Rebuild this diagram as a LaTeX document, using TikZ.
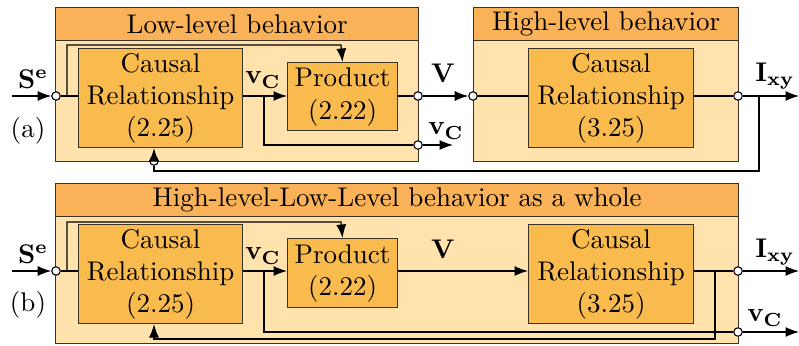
\documentclass[tikz,border=0pt]{standalone}
\usetikzlibrary{arrows.meta}
\definecolor{lightfill}{RGB}{255,226,172}
\definecolor{headfill}{RGB}{249,178,88}
\definecolor{blockfill}{RGB}{250,187,78}
\definecolor{edge}{RGB}{60,50,40}
\newcommand{\sx}[1]{\scalebox{2.7}{#1}}
\newcommand{\stk}[1]{\scalebox{2.7}{\begin{tabular}{@{}c@{}}#1\end{tabular}}}
\begin{document}
\begin{tikzpicture}[x=1pt,y={(0pt,-1pt)},
  every node/.style={font=\fontsize{10}{12}\selectfont},
  container/.style={draw=edge,line width=1.3pt,fill=lightfill,anchor=north west,inner sep=0pt},
  header/.style={draw=edge,line width=1.3pt,fill=headfill,anchor=north west,inner sep=0pt},
  block/.style={draw=edge,line width=1.1pt,fill=blockfill,anchor=north west,inner sep=0pt,align=center},
  port/.style={circle,draw=black,fill=white,line width=1.1pt,inner sep=0pt,minimum size=8.5pt},
  wire/.style={draw=black,line width=1.2pt},
  arr/.style={wire,-{Latex[length=13.5pt,width=10pt]}},
  lbl/.style={inner sep=0pt}]
\useasboundingbox (0,0) rectangle (799,345);
% ---------------- (a) ----------------
\node[container,minimum width=363pt,minimum height=154pt] (ll) at (55,7) {};
\node[header,minimum width=363pt,minimum height=33pt] (llh) at (55,7) {\sx{Low-level behavior}};
\node[container,minimum width=265pt,minimum height=154pt] (hl) at (473,7) {};
\node[header,minimum width=265pt,minimum height=33pt] (hlh) at (473,7) {\sx{High-level behavior}};
\node[block,minimum width=164pt,minimum height=99pt] (cr1) at (78,48) {\stk{Causal\\Relationship\\(2.25)}};
\node[block,minimum width=110pt,minimum height=68pt] (p1) at (287,62) {\stk{Product\\(2.22)}};
\node[block,minimum width=165pt,minimum height=99pt] (cr2) at (528,48) {\stk{Causal\\Relationship\\(3.25)}};
\node[port] (in1) at (56,96) {};
\node[port] (out1) at (418,96) {};
\node[port] (vc1) at (418,145) {};
\node[port] (in2) at (473,96) {};
\node[port] (out2) at (738,96) {};
\node[port] (fb1) at (154,161) {};
\coordinate (sein1) at (12,96);
\coordinate (t1a) at (67,96);
\coordinate (t1b) at (67,45);
\coordinate (t1c) at (341,45);
\coordinate (b1a) at (264,96);
\coordinate (b1b) at (264,145);
\coordinate (vc1end) at (453,145);
\coordinate (ixy1end) at (799,96);
\coordinate (f1a) at (759,96);
\coordinate (f1b) at (759,171);
\coordinate (f1c) at (154,171);
\draw[arr] (sein1) -- (in1);
\draw[wire] (in1) -- (in1 -| cr1.west);
\draw[arr] (t1a) -- (t1b) -- (t1c) -- (p1.north);
\draw[arr] (cr1.east |- b1a) -- (p1.west |- b1a);
\draw[wire] (b1a) -- (b1b) -- (vc1);
\draw[arr] (vc1) -- (vc1end);
\draw[wire] (p1.east |- out1) -- (out1);
\draw[arr] (out1) -- (in2);
\draw[wire] (in2) -- (in2 -| cr2.west);
\draw[wire] (out2 -| cr2.east) -- (out2);
\draw[arr] (out2) -- (ixy1end);
\draw[wire] (f1a) -- (f1b) -- (f1c) -- (fb1);
\draw[arr] (fb1) -- (cr1.south -| fb1);
\node[lbl] (se1) at (33,79) {\sx{$\mathbf{S}^{\mathbf{e}}$}};
\node[lbl] (vcl1) at (263,80) {\sx{$\mathbf{v}_{\mathbf{C}}$}};
\node[lbl] (vl1) at (443,73) {\sx{$\mathbf{V}$}};
\node[lbl] (vcl2) at (446,131) {\sx{$\mathbf{v}_{\mathbf{C}}$}};
\node[lbl] (ixyl1) at (775,76) {\sx{$\mathbf{I}_{\mathbf{xy}}$}};
\node[lbl] (la) at (28,131) {\sx{(a)}};
% ---------------- (b) ----------------
\node[container,minimum width=683pt,minimum height=160pt] (hw) at (55,183) {};
\node[header,minimum width=683pt,minimum height=33pt] (hwh) at (55,183) {\sx{High-level-Low-Level behavior as a whole}};
\node[block,minimum width=164pt,minimum height=99pt] (cr3) at (78,224) {\stk{Causal\\Relationship\\(2.25)}};
\node[block,minimum width=110pt,minimum height=69pt] (p2) at (287,238) {\stk{Product\\(2.22)}};
\node[block,minimum width=165pt,minimum height=99pt] (cr4) at (528,224) {\stk{Causal\\Relationship\\(3.25)}};
\node[port] (in3) at (56,271) {};
\node[port] (out3) at (738,271) {};
\node[port] (vc2) at (738,332) {};
\coordinate (sein2) at (12,271);
\coordinate (t2a) at (67,271);
\coordinate (t2b) at (67,222);
\coordinate (t2c) at (341,222);
\coordinate (b2a) at (264,271);
\coordinate (b2b) at (264,332);
\coordinate (vc2end) at (799,332);
\coordinate (ixy2end) at (799,271);
\coordinate (f2a) at (715,271);
\coordinate (f2b) at (715,339);
\coordinate (f2c) at (154,339);
\draw[arr] (sein2) -- (in3);
\draw[wire] (in3) -- (in3 -| cr3.west);
\draw[arr] (t2a) -- (t2b) -- (t2c) -- (p2.north);
\draw[arr] (cr3.east |- b2a) -- (p2.west |- b2a);
\draw[wire] (b2a) -- (b2b) -- (vc2);
\draw[arr] (vc2) -- (vc2end);
\draw[arr] (p2.east |- b2a) -- (cr4.west |- b2a);
\draw[wire] (cr4.east |- out3) -- (out3);
\draw[arr] (out3) -- (ixy2end);
\draw[arr] (f2a) -- (f2b) -- (f2c) -- (cr3.south -| f2c);
\node[lbl] (se2) at (33,254) {\sx{$\mathbf{S}^{\mathbf{e}}$}};
\node[lbl] (vcl3) at (263,256) {\sx{$\mathbf{v}_{\mathbf{C}}$}};
\node[lbl] (vl2) at (443,249) {\sx{$\mathbf{V}$}};
\node[lbl] (ixyl2) at (775,252) {\sx{$\mathbf{I}_{\mathbf{xy}}$}};
\node[lbl] (vcl4) at (765,318) {\sx{$\mathbf{v}_{\mathbf{C}}$}};
\node[lbl] (lb) at (28,305) {\sx{(b)}};
\end{tikzpicture}
\end{document}
